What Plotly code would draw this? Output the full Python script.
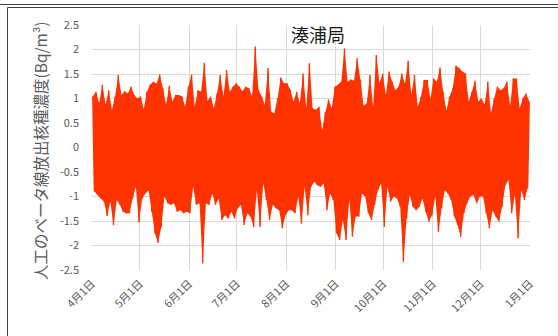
import datetime as dt
import plotly.graph_objects as go

# Daily extremes of the artificial beta nuclide concentration (Bq/m3),
# Apr 1 - Dec 31. Peaks fall on even days, troughs on odd days.
peaks = [
    1.04, 1.14, 0.90, 1.28, 0.88, 1.17, 0.77, 1.04, 1.48, 1.07,
    1.15, 1.10, 1.24, 1.07, 1.00, 1.04, 0.78, 1.14, 1.28, 1.34,
    1.30, 1.49, 1.21, 0.87, 1.26, 0.94, 1.07, 1.07, 1.04, 0.83,
    1.24, 1.49, 0.83, 1.17, 1.14, 1.73, 0.95, 1.04, 0.80, 1.10,
    1.48, 1.04, 1.58, 1.14, 1.24, 1.31, 1.24,
    1.15, 1.24, 1.21, 1.04, 2.06, 1.18, 1.04, 0.87, 1.62, 0.73,
    0.70, 1.00, 1.43, 1.31, 1.31, 1.18, 0.94, 1.14, 0.90, 1.51,
    0.80, 1.72, 0.80, 0.77, 0.83, 0.35, 0.72, 0.98, 0.80, 1.24,
    1.28, 1.34, 2.02, 1.34, 1.39, 1.36, 1.82, 1.39, 0.85, 0.90,
    1.48, 0.83, 1.89, 1.31, 1.51, 1.07, 1.55,
    1.34, 1.17, 1.24, 1.51, 1.30, 1.77, 1.07, 1.48, 0.83, 1.03,
    1.38, 1.38, 1.00, 1.41, 1.34, 1.63, 1.14, 0.75, 1.04, 1.21,
    1.67, 1.62, 1.55, 1.51, 0.94, 1.14, 1.36, 0.94, 1.00, 0.87,
    1.34, 0.70, 1.00, 1.24, 1.17, 1.21, 1.34, 0.85, 1.41, 1.41,
    0.80, 1.00, 1.10, 0.94,
]
troughs = [
    -0.90, -0.97, -1.04, -1.10, -1.40, -1.10, -1.58, -1.07, -1.17, -1.31,
    -1.34, -1.34, -1.04, -0.80, -1.53, -1.04, -0.94, -0.87, -1.31, -1.75,
    -1.95, -1.62, -1.00, -1.14, -1.17, -1.14, -1.31, -1.28, -1.34, -1.31,
    -1.34, -0.80, -1.17, -1.14, -2.36, -1.14, -1.17, -0.94, -1.17, -1.04,
    -1.48, -1.38, -1.45, -1.31, -1.45, -1.24,
    -1.17, -1.58, -1.34, -1.41, -1.62, -0.87, -1.62, -0.73, -1.07, -1.48,
    -1.17, -1.24, -1.28, -1.65, -1.38, -1.28, -1.28, -1.34, -1.00, -1.55,
    -0.80, -1.38, -0.80, -0.70, -0.77, -0.80, -0.73, -1.28, -0.94, -1.07,
    -1.75, -1.89, -1.48, -1.89, -1.07, -1.82, -1.41, -1.41, -0.94, -1.00,
    -1.34, -1.48, -1.17, -0.87, -0.73, -1.62, -0.80,
    -1.10, -1.00, -1.04, -1.21, -2.33, -1.45, -0.97, -1.21, -1.28, -1.21,
    -1.04, -1.31, -1.51, -1.38, -1.00, -1.72, -1.24, -0.87, -0.94, -1.07,
    -1.41, -1.58, -1.82, -1.34, -1.14, -1.00, -0.97, -1.14, -1.00, -1.00,
    -1.34, -1.65, -1.28, -1.41, -1.51, -1.21, -0.77, -0.66, -1.34, -0.97,
    -1.85, -0.87, -1.07, -0.83,
]

month_starts = ["2022-04-01", "2022-05-01", "2022-06-01", "2022-07-01",
                "2022-08-01", "2022-09-01", "2022-10-01", "2022-11-01",
                "2022-12-01", "2023-01-01"]
month_labels = ["4月1日", "5月1日", "6月1日", "7月1日", "8月1日",
                "9月1日", "10月1日", "11月1日", "12月1日", "1月1日"]
y_ticks = [2.5, 2, 1.5, 1, 0.5, 0, -0.5, -1, -1.5, -2, -2.5]
y_labels = ["2.5", "2", "1.5", "1", "0.5", "0", "-0.5", "-1", "-1.5", "-2", "-2.5"]

start = dt.datetime(2022, 4, 1, 12)
n_days = len(peaks) + len(troughs)
times = [start + dt.timedelta(days=d) for d in range(n_days)]
values = [peaks[d // 2] if d % 2 == 0 else troughs[d // 2] for d in range(n_days)]
peak_times = times[0::2]
trough_times = times[1::2]

FONT = "Noto Sans CJK JP"
GRAY = "#595959"
GRID = "#d9d9d9"
SERIES = "#FF3300"

fig = go.Figure()
# Band between the peak and trough envelopes, so the swings read as solid.
fig.add_trace(go.Scatter(
    x=peak_times, y=peaks, mode="lines", line=dict(width=0, simplify=False),
    hoverinfo="skip", showlegend=False,
))
fig.add_trace(go.Scatter(
    x=trough_times, y=troughs, mode="lines", line=dict(width=0, simplify=False),
    fill="tonexty", fillcolor=SERIES,
    hoverinfo="skip", showlegend=False,
))
# The series itself.
fig.add_trace(go.Scatter(
    x=times, y=values, mode="lines",
    line=dict(color=SERIES, width=1.4, simplify=False),
    hoverinfo="skip", showlegend=False,
))

W, H = 558, 336
L, R, T, B = 92, 28, 25, 66
pw, ph = W - L - R, H - T - B


def px(x):
    return (x - L) / pw


def py(y):
    return (H - B - y) / ph


fig.update_layout(
    width=W, height=H,
    margin=dict(l=L, r=R, t=T, b=B, pad=0),
    paper_bgcolor="white", plot_bgcolor="white",
    font=dict(family=FONT, color=GRAY, size=11),
    xaxis=dict(
        type="date",
        range=[month_starts[0], month_starts[-1]],
        tickvals=month_starts, ticktext=month_labels,
        tickangle=-45, showgrid=True, gridcolor=GRID, gridwidth=1,
        showline=False, zeroline=False, ticks="",
        tickfont=dict(family=FONT, size=11, color=GRAY),
        ticklabelstandoff=4,
    ),
    yaxis=dict(
        range=[-2.5, 2.5], tickvals=y_ticks, ticktext=y_labels,
        showgrid=True, gridcolor=GRID, gridwidth=1,
        zeroline=False, showline=False, ticks="",
        tickfont=dict(family=FONT, size=11, color=GRAY),
        ticklabelstandoff=12,
    ),
    annotations=[
        dict(text="湊浦局", xref="paper", yref="paper",
             x=px(318), y=py(34), xanchor="center", yanchor="middle",
             showarrow=False, font=dict(family=FONT, size=18, color="#1a1a1a")),
        dict(text="人工のベータ線放出核種濃度(Bq/m³)", xref="paper", yref="paper",
             x=px(40), y=py(151), xanchor="center", yanchor="middle",
             textangle=-90, showarrow=False,
             font=dict(family=FONT, size=15.5, color=GRAY)),
    ],
    shapes=[
        dict(type="line", xref="paper", yref="paper",
             x0=px(0), x1=px(W), y0=py(4.5), y1=py(4.5),
             line=dict(color="#404040", width=1)),
        dict(type="line", xref="paper", yref="paper",
             x0=px(7.5), x1=px(W), y0=py(7.5), y1=py(7.5),
             line=dict(color="#404040", width=1)),
        dict(type="line", xref="paper", yref="paper",
             x0=px(7.5), x1=px(7.5), y0=py(7.5), y1=py(H),
             line=dict(color="#404040", width=1)),
    ],
)

fig.write_html("out.html")
